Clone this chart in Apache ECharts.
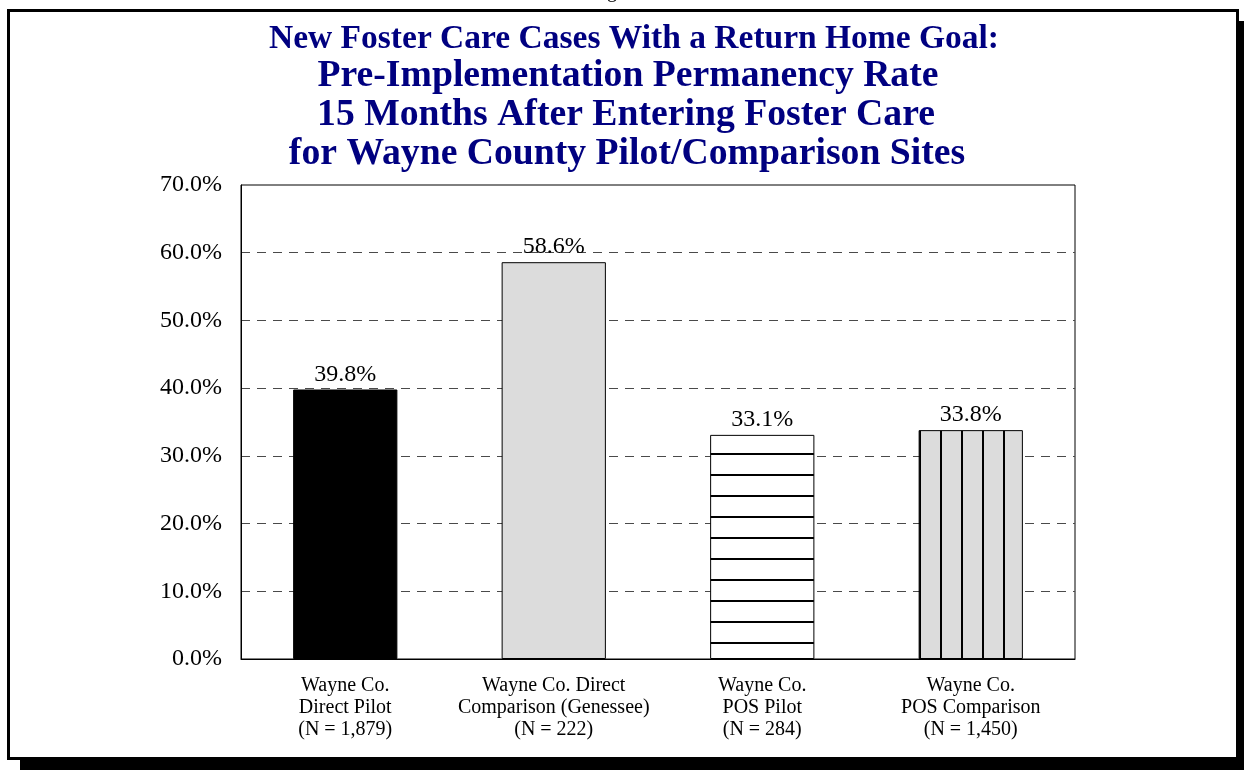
<!DOCTYPE html>
<html>
<head>
<meta charset="utf-8">
<title>Wayne County permanency rate</title>
<script src="https://cdn.jsdelivr.net/npm/echarts@6/dist/echarts.min.js"></script>
<style>
  html, body { margin: 0; padding: 0; background: #fff; }
  #main { width: 1244px; height: 770px; }
</style>
</head>
<body>
<div id="main"></div>
<script>
// chart data
var siteNames = ['Wayne Co.\nDirect Pilot', 'Wayne Co. Direct\nComparison (Genessee)', 'Wayne Co.\nPOS Pilot', 'Wayne Co.\nPOS Comparison'];
var caseCounts = ['1,879', '222', '284', '1,450'];
var rates = [39.8, 58.6, 33.1, 33.8];
var yMin = 0, yMax = 70, yStep = 10;
var titleLines = [
  'New Foster Care Cases With a Return Home Goal:',
  'Pre-Implementation Permanency Rate',
  '15 Months After Entering Foster Care',
  'for Wayne County Pilot/Comparison Sites'
];

var serif = '"Liberation Serif", "Times New Roman", serif';
var navy = '#000080';

// hatch fills
function stripes(bg, vertical) {
  var c = document.createElement('canvas');
  c.width = 21; c.height = 21;
  var ctx = c.getContext('2d');
  ctx.fillStyle = bg;
  ctx.fillRect(0, 0, 21, 21);
  ctx.fillStyle = '#000';
  if (vertical) ctx.fillRect(16, 0, 2, 21);
  else ctx.fillRect(0, 12, 21, 2);
  return c;
}

var fills = [
  '#000',
  '#dcdcdc',
  { image: stripes('#fff', false), repeat: 'repeat' },
  { image: stripes('#dcdcdc', true), repeat: 'repeat' }
];

var categories = siteNames.map(function (n, i) {
  return n + '\n(N = ' + caseCounts[i] + ')';
});

var barData = rates.map(function (v, i) {
  return { value: v, itemStyle: { color: fills[i], borderColor: '#000', borderWidth: 1 } };
});

function titleText(i, x, y, size) {
  return {
    type: 'text', z: 10,
    style: { text: titleLines[i], x: x, y: y, textAlign: 'center', textVerticalAlign: 'middle', font: 'bold ' + size + 'px ' + serif, fill: navy }
  };
}

var myChart = echarts.init(document.getElementById('main'));
myChart.setOption({
  animation: false,
  backgroundColor: '#fff',
  graphic: [
    { type: 'rect', z: -20, silent: true, shape: { x: 20, y: 21, width: 1240, height: 760 }, style: { fill: '#000' } },
    { type: 'rect', z: -10, silent: true, shape: { x: 8.5, y: 10.5, width: 1229, height: 748 }, style: { fill: '#fff', stroke: '#000', lineWidth: 3 } },
    { type: 'text', z: 10, style: { text: 'g', x: 612, y: -8, textAlign: 'center', textVerticalAlign: 'middle', font: '20px ' + serif, fill: '#000' } },
    titleText(0, 634, 39.5, 33.5),
    titleText(1, 628, 76.5, 37.7),
    titleText(2, 626, 115.5, 37.7),
    titleText(3, 627, 154, 37.7)
  ],
  grid: {
    left: 241, right: 169, top: 185, bottom: 111,
    show: true, borderColor: '#000', borderWidth: 1, backgroundColor: 'transparent'
  },
  xAxis: {
    type: 'category',
    data: categories,
    axisLine: { lineStyle: { color: '#000', width: 1 } },
    axisTick: { show: false },
    axisLabel: { color: '#000', fontFamily: serif, fontSize: 20, lineHeight: 22, margin: 16, interval: 0 }
  },
  yAxis: {
    type: 'value',
    min: yMin, max: yMax, interval: yStep,
    axisLine: { show: true, lineStyle: { color: '#000' } },
    axisTick: { show: false },
    axisLabel: {
      color: '#000', fontFamily: serif, fontSize: 24, margin: 19,
      formatter: function (v) { return v.toFixed(1) + '%'; }
    },
    splitLine: { show: true, showMinLine: false, showMaxLine: false, lineStyle: { color: '#4a4a4a', width: 1, type: [9, 7] } }
  },
  series: [{
    type: 'bar',
    barWidth: '50%',
    data: barData,
    label: {
      show: true, position: 'top', distance: 3,
      color: '#000', fontFamily: serif, fontSize: 24,
      formatter: function (p) { return p.value.toFixed(1) + '%'; }
    }
  }]
});
</script>
</body>
</html>
